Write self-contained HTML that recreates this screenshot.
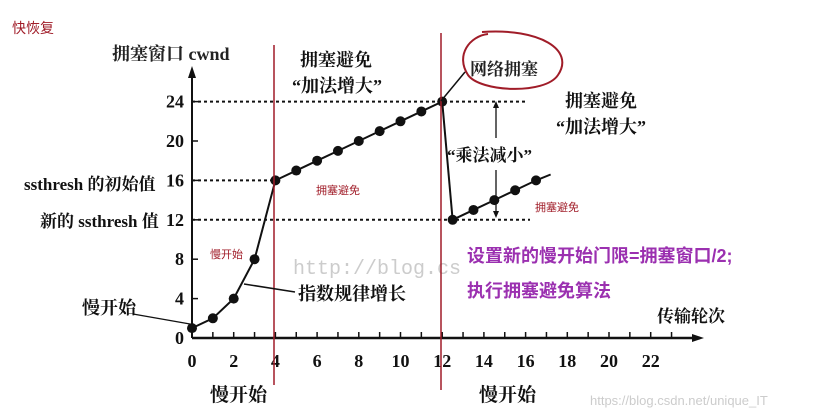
<!DOCTYPE html>
<html><head><meta charset="utf-8"><style>
html,body{margin:0;padding:0;background:#fff;}
svg{display:block;font-family:"Liberation Serif","Noto Serif CJK SC",serif;}
.cn{font-family:"Liberation Sans","Noto Sans CJK SC",sans-serif;}
</style></head><body>
<svg id="chart" width="815" height="417" viewBox="0 0 815 417">
<text x="12" y="33" class="cn" font-size="14" fill="#a01c28">快恢复</text>
<text x="112" y="60" font-size="18" font-weight="bold" fill="#222">拥塞窗口 cwnd</text>
<g id="axes"></g>
<g id="marks"></g>
<text x="293" y="274" font-size="20" fill="#ccc" font-family="Liberation Mono,monospace">http://blog.cs</text>
<text x="590" y="405" class="cn" font-size="13" fill="#ccc">https://blog.csdn.net/unique_IT</text>
<line x1="274" y1="45" x2="274" y2="385" stroke="#a01c28" stroke-width="1.5"/>
<line x1="441" y1="33" x2="441" y2="390" stroke="#a01c28" stroke-width="1.5"/>
<path d="M482,32 C540,28 575,50 558,75 C545,95 480,92 468,75 C455,55 470,36 488,34" fill="none" stroke="#a01c28" stroke-width="2"/>
<text x="470" y="75" font-size="17" font-weight="bold" fill="#222">网络拥塞</text>
<path d="M441,101 L465,72" stroke="#111" stroke-width="1.5" fill="none"/>
<text x="300" y="66" font-size="18" font-weight="bold" fill="#111">拥塞避免</text>
<text x="292" y="92" font-size="18" font-weight="bold" fill="#111">“加法增大”</text>
<text x="565" y="107" font-size="18" font-weight="bold" fill="#111">拥塞避免</text>
<text x="556" y="133" font-size="18" font-weight="bold" fill="#111">“加法增大”</text>
<text x="447" y="161" font-size="17" font-weight="bold" fill="#111">“乘法减小”</text>
<line x1="496" y1="104" x2="496" y2="138" stroke="#111" stroke-width="1.3"/>
<path d="M493,108 L496,101 L499,108Z" fill="#111"/>
<line x1="496" y1="170" x2="496" y2="215" stroke="#111" stroke-width="1.3"/>
<path d="M493,211 L496,218 L499,211Z" fill="#111"/>
<text x="316" y="194" class="cn" font-size="11" fill="#a01c28">拥塞避免</text>
<text x="535" y="211" class="cn" font-size="11" fill="#a01c28">拥塞避免</text>
<text x="210" y="258" class="cn" font-size="11" fill="#a01c28">慢开始</text>
<text x="24" y="190" font-size="17" font-weight="bold" fill="#111">ssthresh 的初始值</text>
<text x="40" y="227" font-size="17" font-weight="bold" fill="#111">新的 ssthresh 值</text>
<text x="82" y="314" font-size="18" font-weight="bold" fill="#111">慢开始</text>
<path d="M133,314 L190,324" stroke="#111" stroke-width="1.3" fill="none"/>
<text x="298" y="300" font-size="18" font-weight="bold" fill="#111">指数规律增长</text>
<path d="M295,292 L244,284" stroke="#111" stroke-width="1.5" fill="none"/>
<text x="210" y="401" font-size="19" font-weight="bold" fill="#111">慢开始</text>
<text x="479" y="401" font-size="19" font-weight="bold" fill="#111">慢开始</text>
<text x="657" y="322" font-size="17" font-weight="bold" fill="#111">传输轮次</text>
<text x="467" y="262" class="cn" font-size="18" font-weight="bold" fill="#9b30b0">设置新的慢开始门限=拥塞窗口/2;</text>
<text x="467" y="297" class="cn" font-size="18" font-weight="bold" fill="#9b30b0">执行拥塞避免算法</text>
</svg>
<script>
const rounds1 = [0,1,2,3,4,5,6,7,8,9,10,11,12];
const cwnd1 = [1,2,4,8,16,17,18,19,20,21,22,23,24];
const rounds2 = [12.5,13.5,14.5,15.5,16.5];
const cwnd2 = [12,13,14,15,16];
const yTicks = [0,4,8,12,16,20,24];
const xTicks = [0,2,4,6,8,10,12,14,16,18,20,22];
const guides = [24,16,12];
const NS="http://www.w3.org/2000/svg";
const X=r=>192+r*20.85, Y=v=>338-v*9.85;
function mk(t,a,p){const e=document.createElementNS(NS,t);for(const k in a)e.setAttribute(k,a[k]);p.appendChild(e);return e;}
const ax=document.getElementById('axes'), mg=document.getElementById('marks');
mk('line',{x1:192,y1:Y(0),x2:700,y2:Y(0),stroke:'#111','stroke-width':2.5},ax);
mk('line',{x1:192,y1:Y(0),x2:192,y2:70,stroke:'#111','stroke-width':2},ax);
mk('path',{d:'M188,78 L192,66 L196,78Z',fill:'#111'},ax);
mk('path',{d:'M692,334 L704,338 L692,342Z',fill:'#111'},ax);
for(let i=0;i<=23;i++){mk('line',{x1:X(i),y1:Y(0),x2:X(i),y2:Y(0)-6,stroke:'#111','stroke-width':1.5},ax);}
yTicks.forEach(v=>{
 const t=mk('text',{x:184,y:Y(v)+6,'text-anchor':'end','font-size':18,'font-weight':'bold',fill:'#111'},ax);t.textContent=v;
 
 
 mk('line',{x1:192,y1:Y(v),x2:198,y2:Y(v),stroke:'#111','stroke-width':1.5},ax);
});
xTicks.forEach(v=>{
 const t=mk('text',{x:X(v),y:367,'text-anchor':'middle','font-size':18,'font-weight':'bold',fill:'#111'},ax);t.textContent=v;
 
 
});
guides.forEach((v,i)=>{
 const l=mk('line',{x1:192,y1:Y(v),x2:i==0?527:i==2?530:274,y2:Y(v),stroke:'#111','stroke-width':2,'stroke-dasharray':'3,3'},ax);
 
 
});
function series(rs,vs,name){
 const p=mk('polyline',{points:rs.map((r,i)=>X(r)+','+Y(vs[i])).join(' '),fill:'none',stroke:'#111','stroke-width':2},mg);
 
 
 rs.forEach((r,i)=>{const c=mk('circle',{cx:X(r),cy:Y(vs[i]),r:5,fill:'#111'},mg);
  
  });
}
series(rounds1,cwnd1,'cwnd-phase1');
mk('line',{x1:X(12),y1:Y(24),x2:X(rounds2[0]),y2:Y(cwnd2[0]),stroke:'#111','stroke-width':2},mg);
series(rounds2,cwnd2,'cwnd-phase2');
mk('line',{x1:X(rounds2[4]),y1:Y(cwnd2[4]),x2:X(rounds2[4]+0.7),y2:Y(cwnd2[4]+0.6),stroke:'#111','stroke-width':2},mg);
</script>
</body></html>
